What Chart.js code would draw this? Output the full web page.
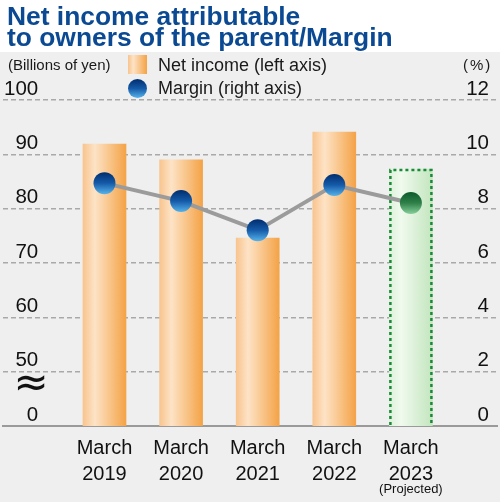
<!DOCTYPE html>
<html>
<head>
<meta charset="utf-8">
<script src="https://cdn.jsdelivr.net/npm/chart.js@4.4.0/dist/chart.umd.min.js"></script>
<style>
  body { margin: 0; }
  #wrap {
    position: relative; width: 500px; height: 502px; overflow: hidden;
    background: linear-gradient(#fff 0, #fff 52px, #efefef 52px);
    font-family: "Liberation Sans", Arial, sans-serif; color: #1a1a1a;
  }
  #wrap canvas { position: absolute; left: 0; top: 0; }
  .t { position: absolute; white-space: nowrap; }
  #title { left: 7px; top: 6px; font-size: 26.4px; line-height: 21px; font-weight: bold; color: #0b4a93; }
  #unitL { left: 8px; top: 55px; font-size: 15px; line-height: 20px; }
  #unitR { left: 463px; top: 55px; font-size: 15px; line-height: 20px; letter-spacing: 2px; }
  .lg { left: 158px; font-size: 18px; line-height: 20px; }
  #sq { position: absolute; left: 128px; top: 55px; width: 19px; height: 19px;
        background: linear-gradient(90deg, #f8c38c 0%, #fde3c6 28%, #f4a245 100%); }
  #dot { position: absolute; left: 128px; top: 79px; width: 19px; height: 19px; border-radius: 50%;
         background: linear-gradient(#002d6e 0%, #155aa8 50%, #55b3ea 100%); }
</style>
</head>
<body>
<div id="wrap">
  <canvas id="canvas" width="500" height="502"></canvas>
  <div class="t" id="title">Net income attributable<br>to owners of the parent/Margin</div>
  <div class="t" id="unitL">(Billions of yen)</div>
  <div class="t" id="unitR">(%)</div>
  <div id="sq"></div>
  <div class="t lg" style="top:55px">Net income (left axis)</div>
  <div id="dot"></div>
  <div class="t lg" style="top:78px">Margin (right axis)</div>
</div>
<script>
/* data */
const years = ['2019', '2020', '2021', '2022', '2023'];
const netIncome = [91.9, 89.0, 74.6, 94.1, 87.3];
const margin = [8.94, 8.28, 7.21, 8.87, 8.21];
const projected = [false, false, false, false, true];
const leftTicks = [40, 50, 60, 70, 80, 90, 100]; // 40 = broken axis, shown as 0
const rightTicks = [0, 2, 4, 6, 8, 10, 12];

const FONT = '"Liberation Sans", Arial, sans-serif';

/* orange / green gradient for bars */
function barFill(c) {
  const ch = c.chart;
  const xs = ch.scales.x;
  if (!ch.chartArea || !xs || c.dataIndex == null) return '#f6b36a';
  const cx = xs.getPixelForValue(c.dataIndex);
  const g = ch.ctx.createLinearGradient(cx - 22, 0, cx + 22, 0);
  if (projected[c.dataIndex]) {
    g.addColorStop(0, '#dcf1d8');
    g.addColorStop(0.28, '#f0faee');
    g.addColorStop(1, '#c2e5bd');
  } else {
    g.addColorStop(0, '#f8c38c');
    g.addColorStop(0.28, '#fde3c6');
    g.addColorStop(1, '#f4a245');
  }
  return g;
}

/* blue / green ball for margin points */
function pointFill(c) {
  const ch = c.chart;
  const ys = ch.scales.y2;
  if (!ch.chartArea || !ys || c.dataIndex == null) return '#0b3f86';
  const cy = ys.getPixelForValue(margin[c.dataIndex]);
  const g = ch.ctx.createLinearGradient(0, cy - 11, 0, cy + 11);
  if (projected[c.dataIndex]) {
    g.addColorStop(0, '#0b5a2a');
    g.addColorStop(0.5, '#2e7f48');
    g.addColorStop(1, '#86cf9b');
  } else {
    g.addColorStop(0, '#002d6e');
    g.addColorStop(0.5, '#155aa8');
    g.addColorStop(1, '#55b3ea');
  }
  return g;
}

/* dashed outline of the projected bar */
const projectedBorder = {
  id: 'projectedBorder',
  afterDatasetDraw(chart, args) {
    if (args.index !== 0) return;
    const ctx = chart.ctx;
    const bottom = chart.chartArea.bottom;
    args.meta.data.forEach((bar, i) => {
      if (!projected[i]) return;
      const p = bar.getProps(['x', 'y', 'base', 'width'], true);
      const l = p.x - p.width / 2 + 1, r = p.x + p.width / 2 - 1;
      const b = Math.min(p.base, bottom - 1);
      ctx.save();
      ctx.setLineDash([3, 3]);
      ctx.lineWidth = 2.5;
      ctx.strokeStyle = '#1a8a3a';
      ctx.beginPath();
      ctx.moveTo(l, b);
      ctx.lineTo(l, p.y + 1);
      ctx.lineTo(r, p.y + 1);
      ctx.lineTo(r, b);
      ctx.stroke();
      ctx.restore();
    });
  }
};

/* wavy break mark between 0 and 50 */
const breakMark = {
  id: 'breakMark',
  afterDraw(chart) {
    const ctx = chart.ctx;
    const y = chart.scales.y.getPixelForValue(leftTicks[1]) + 13;
    ctx.save();
    ctx.font = '42px "DejaVu Sans"';
    ctx.fillStyle = '#111';
    ctx.textAlign = 'center';
    ctx.textBaseline = 'middle';
    ctx.fillText('\u2248', 31, y);
    ctx.restore();
  }
};

const xMin = -1.325, xMax = 5.124;

new Chart(document.getElementById('canvas'), {
  type: 'bar',
  data: {
    datasets: [{
      type: 'bar',
      label: 'Net income (left axis)',
      data: netIncome.map((v, i) => ({ x: i, y: v })),
      yAxisID: 'y',
      backgroundColor: barFill,
      borderWidth: 0,
      barThickness: 43,
      order: 1
    }, {
      type: 'line',
      label: 'Margin (right axis)',
      data: margin.map((v, i) => ({ x: i, y: v })),
      yAxisID: 'y2',
      borderColor: '#9b9b9b',
      borderWidth: 4,
      tension: 0,
      pointRadius: 11,
      pointBorderWidth: 0,
      pointBackgroundColor: pointFill,
      clip: false,
      order: 0
    }]
  },
  options: {
    responsive: false,
    animation: false,
    events: [],
    layout: { autoPadding: false, padding: { top: 100, left: 3, right: 3, bottom: 0 } },
    plugins: { legend: { display: false }, tooltip: { enabled: false } },
    scales: {
      x: {
        type: 'linear', position: 'bottom', weight: 0, offset: false,
        min: xMin, max: xMax,
        afterBuildTicks: s => { s.ticks = years.map((_, i) => ({ value: i })); },
        afterFit: s => { s.height = 56; },
        grid: { drawOnChartArea: false, drawTicks: false, offset: false },
        border: { display: true, color: '#9a9a9a', width: 2 },
        ticks: {
          autoSkip: false, maxRotation: 0, padding: 9, color: '#111',
          font: { family: FONT, size: 20, lineHeight: 1.3 },
          callback: v => ['March', years[v]]
        }
      },
      x2: {
        type: 'linear', position: 'bottom', weight: 1, offset: false,
        min: xMin, max: xMax,
        afterBuildTicks: s => {
          s.ticks = projected.map((p, i) => p ? { value: i } : null).filter(Boolean);
        },
        afterFit: s => { s.height = 20; },
        grid: { display: false, offset: false },
        border: { display: false },
        ticks: {
          autoSkip: false, maxRotation: 0, padding: -8, color: '#111',
          font: { family: FONT, size: 13 },
          callback: () => '(Projected)'
        }
      },
      y: {
        type: 'linear', position: 'left',
        min: leftTicks[0], max: leftTicks[leftTicks.length - 1],
        afterBuildTicks: s => { s.ticks = leftTicks.map(v => ({ value: v })); },
        afterFit: s => { s.width = 0; },
        grid: {
          drawTicks: false, lineWidth: 1.5,
          color: c => (c.tick && c.tick.value === leftTicks[0]) ? 'rgba(0,0,0,0)' : '#a9a9a9'
        },
        border: { display: false, dash: [5, 3] },
        ticks: {
          mirror: true, crossAlign: 'far', padding: 1, labelOffset: -11, color: '#111',
          font: { family: FONT, size: 20.5 },
          callback: v => v === leftTicks[0] ? '0' : String(v)
        }
      },
      y2: {
        type: 'linear', position: 'right',
        min: rightTicks[0], max: rightTicks[rightTicks.length - 1],
        afterBuildTicks: s => { s.ticks = rightTicks.map(v => ({ value: v })); },
        afterFit: s => { s.width = 0; },
        grid: { display: false },
        border: { display: false },
        ticks: {
          mirror: true, crossAlign: 'near', padding: -8, labelOffset: -11, color: '#111',
          font: { family: FONT, size: 20.5 },
          callback: v => String(v)
        }
      }
    }
  },
  plugins: [projectedBorder, breakMark]
});
</script>
</body>
</html>
